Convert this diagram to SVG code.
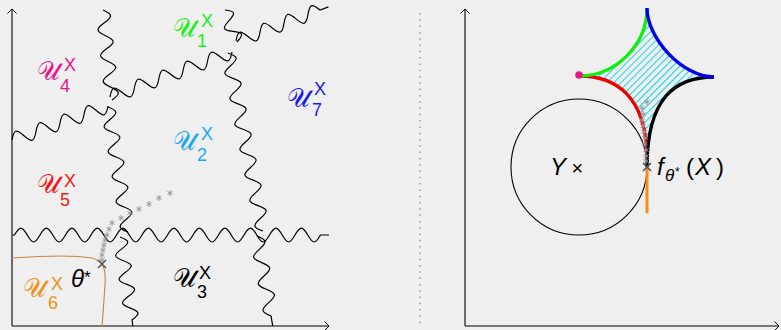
<svg xmlns="http://www.w3.org/2000/svg" width="781" height="330" viewBox="0 0 781 330">
<defs>
<style>
.wave{fill:none;stroke:#000;stroke-width:1.2}
.axis{fill:none;stroke:#000;stroke-width:1.1}
.lbl{font-family:"Liberation Sans",Arial,sans-serif;font-size:18px}
.scr{font-family:"DejaVu Sans","DejaVu Serif","Noto Sans",serif;font-size:26px}
.math{font-family:"Liberation Sans",Arial,sans-serif;font-size:24px;fill:#000}
.ast{fill:none;stroke:#9a9a9a;stroke-width:1}
.cross{fill:none;stroke:#555;stroke-width:1.6}
.arc{fill:none;stroke-width:3.4;stroke-linecap:butt}
</style>
<marker id="arr" viewBox="-6 -6 8 12" refX="0" refY="0" markerWidth="8" markerHeight="12" markerUnits="userSpaceOnUse" orient="auto">
<path d="M-4.5,-4.5 Q-1.5,-1.5 0,0 Q-1.5,1.5 -4.5,4.5" fill="none" stroke="#000" stroke-width="1"/>
</marker>
<path id="ast" d="M0,-3V3M-2.6,-1.5L2.6,1.5M-2.6,1.5L2.6,-1.5"/>
<pattern id="hatch" patternUnits="userSpaceOnUse" width="5" height="5" patternTransform="rotate(-45)">
<line x1="0" y1="2.5" x2="5" y2="2.5" stroke="#10d8ea" stroke-width="1"/>
</pattern>
</defs>
<rect width="781" height="330" fill="#efefef"/>

<!-- separator -->
<line x1="420" y1="13" x2="420" y2="326" stroke="#888" stroke-width="1.2" stroke-dasharray="1.5 4.8"/>

<!-- axes -->
<g id="axes">
<path class="axis" d="M12,326V9" marker-end="url(#arr)"/>
<path class="axis" d="M12,326H329" marker-end="url(#arr)"/>
<path class="axis" d="M465,326V9" marker-end="url(#arr)"/>
<path class="axis" d="M465,326H779" marker-end="url(#arr)"/>
</g>

<!-- region boundaries -->
<g id="boundaries">
<path class="wave" d="M12,235h2.5c5.36,-9.3 7.4,-9.3 12.75,0s7.4,9.3 12.75,0s7.4,-9.3 12.75,0s7.4,9.3 12.75,0s7.4,-9.3 12.75,0s7.4,9.3 12.75,0s7.4,-9.3 12.75,0s7.4,9.3 12.75,0s7.4,-9.3 12.75,0s7.4,9.3 12.75,0s7.4,-9.3 12.75,0s7.4,9.3 12.75,0s7.4,-9.3 12.75,0s7.4,9.3 12.75,0s7.4,-9.3 12.75,0s7.4,9.3 12.75,0s7.4,-9.3 12.75,0s7.4,9.3 12.75,0s7.4,-9.3 12.75,0s7.4,9.3 12.75,0s7.4,-9.3 12.75,0s7.4,9.3 12.75,0s7.4,-9.3 12.75,0s7.4,9.3 12.75,0H329"/>
<path class="wave" transform="translate(103,10) rotate(84.29)" d="M0,0c5.43,-9.3 7.49,-9.3 12.92,0s7.49,9.3 12.92,0s7.49,-9.3 12.92,0s7.49,9.3 12.92,0s7.49,-9.3 12.92,0s7.49,9.3 12.92,0s7.49,-9.3 12.92,0"/>
<path class="wave" transform="translate(108,107) rotate(80.91)" d="M0,0c5.32,-9.3 7.34,-9.3 12.66,0s7.34,9.3 12.66,0s7.34,-9.3 12.66,0s7.34,9.3 12.66,0s7.34,-9.3 12.66,0s7.34,9.3 12.66,0s7.34,-9.3 12.66,0s7.34,9.3 12.66,0s7.34,-9.3 12.66,0s7.34,9.3 12.66,0"/>
<path class="wave" transform="translate(120,237) rotate(81.77)" d="M0,0c5.03,-9.3 6.95,-9.3 11.98,0s6.95,9.3 11.98,0s6.95,-9.3 11.98,0s6.95,9.3 11.98,0s6.95,-9.3 11.98,0s6.95,9.3 11.98,0s6.95,-9.3 11.98,0h6"/>
<path class="wave" transform="translate(225,10) rotate(69.44)" d="M0,0c4.79,-9.3 6.61,-9.3 11.4,0s6.61,9.3 11.4,0s6.61,-9.3 11.4,0"/>
<path class="wave" transform="translate(228,53) rotate(78.88)" d="M0,0c5.44,-9.3 7.52,-9.3 12.96,0s7.52,9.3 12.96,0s7.52,-9.3 12.96,0s7.52,9.3 12.96,0s7.52,-9.3 12.96,0s7.52,9.3 12.96,0s7.52,-9.3 12.96,0s7.52,9.3 12.96,0s7.52,-9.3 12.96,0s7.52,9.3 12.96,0s7.52,-9.3 12.96,0s7.52,9.3 12.96,0s7.52,-9.3 12.96,0s7.52,9.3 12.96,0"/>
<path class="wave" transform="translate(257,236) rotate(80.07)" d="M0,0c5.68,-9.3 7.85,-9.3 13.53,0s7.85,9.3 13.53,0s7.85,-9.3 13.53,0s7.85,9.3 13.53,0s7.85,-9.3 13.53,0s7.85,9.3 13.53,0h10"/>
<path class="wave" transform="translate(12,140) rotate(-19.5)" d="M0,0c5.35,-9.3 7.38,-9.3 12.73,0s7.38,9.3 12.73,0s7.38,-9.3 12.73,0s7.38,9.3 12.73,0s7.38,-9.3 12.73,0s7.38,9.3 12.73,0s7.38,-9.3 12.73,0s7.38,9.3 12.73,0"/>
<path class="wave" transform="translate(110,97) rotate(-20.25)" d="M0,0c5.46,-9.3 7.54,-9.3 13,0s7.54,9.3 13,0s7.54,-9.3 13,0s7.54,9.3 13,0s7.54,-9.3 13,0s7.54,9.3 13,0s7.54,-9.3 13,0s7.54,9.3 13,0s7.54,-9.3 13,0s7.54,9.3 13,0"/>
<path class="wave" transform="translate(236,41) rotate(-20.26)" d="M0,0c5.37,-9.3 7.42,-9.3 12.79,0s7.42,9.3 12.79,0s7.42,-9.3 12.79,0s7.42,9.3 12.79,0s7.42,-9.3 12.79,0s7.42,9.3 12.79,0s7.42,-9.3 12.79,0h9"/>
</g>

<!-- orange region U6 boundary -->
<path id="u6-boundary" d="M12,258C40,256 75,255 92,258C104,261 106,270 105,285C104,300 103,315 102,326" fill="none" stroke="#c8843c" stroke-width="1.1"/>

<!-- labels -->
<g id="U1"><text class="lbl" fill="#1aee1a"><tspan class="scr" x="173" y="37">𝒰</tspan><tspan x="201" y="27">X</tspan><tspan x="197" y="47">1</tspan></text></g>
<g id="U4"><text class="lbl" fill="#e8168c"><tspan class="scr" x="37" y="80">𝒰</tspan><tspan x="64" y="71">X</tspan><tspan x="60" y="92">4</tspan></text></g>
<g id="U7"><text class="lbl" fill="#1a1aee"><tspan class="scr" x="287" y="107">𝒰</tspan><tspan x="314" y="95">X</tspan><tspan x="312" y="116">7</tspan></text></g>
<g id="U2"><text class="lbl" fill="#18a8f0"><tspan class="scr" x="173" y="150">𝒰</tspan><tspan x="201" y="140">X</tspan><tspan x="197" y="161">2</tspan></text></g>
<g id="U5"><text class="lbl" fill="#f01818"><tspan class="scr" x="37" y="193">𝒰</tspan><tspan x="64" y="187">X</tspan><tspan x="60" y="206">5</tspan></text></g>
<g id="U6"><text class="lbl" fill="#f0901a"><tspan class="scr" x="23" y="297">𝒰</tspan><tspan x="51" y="290">X</tspan><tspan x="48" y="309">6</tspan></text></g>
<g id="U3"><text class="lbl" fill="#000"><tspan class="scr" x="173" y="287">𝒰</tspan><tspan x="199" y="279">X</tspan><tspan x="197" y="298">3</tspan></text></g>

<!-- trajectory left -->
<g id="traj-left" class="ast">
<use href="#ast" x="170" y="193"/><use href="#ast" x="159" y="198"/><use href="#ast" x="149" y="204"/>
<use href="#ast" x="139" y="209"/><use href="#ast" x="130" y="213"/><use href="#ast" x="121" y="218"/>
<use href="#ast" x="112" y="223"/><use href="#ast" x="109" y="229"/><use href="#ast" x="107" y="235"/>
<use href="#ast" x="105" y="240"/><use href="#ast" x="104" y="245"/><use href="#ast" x="103" y="250"/>
<use href="#ast" x="102" y="255"/><use href="#ast" x="102" y="260"/>
</g>
<g id="theta">
<path class="cross" d="M98,260L106,268M98,268L106,260"/>
<text class="math" x="71" y="287" font-size="26" font-style="italic">θ<tspan font-style="normal" font-size="17" dy="-4">*</tspan></text>
</g>

<!-- right panel -->
<g id="ball-Y">
<circle cx="579" cy="167" r="68" fill="none" stroke="#000" stroke-width="1.1"/>
<text class="math" x="550" y="175"><tspan font-style="italic">Y</tspan><tspan font-size="20"> ×</tspan></text>
</g>
<line x1="647" y1="150" x2="647" y2="213" stroke="#ff8a10" stroke-width="3"/>
<g id="image-set">
<path d="M579,76C616,76 647,45 647,8C647,39 683,77 714,77C676,77 647,97 647,167C647,95 615,76 579,76Z" fill="url(#hatch)"/>
<path class="arc" stroke="#ee0000" d="M579,76C615,76 647,95 647,160"/>
<path class="arc" stroke="#000" d="M714,77C676,77 647,97 647,167"/>
<path class="arc" stroke="#10ee10" d="M579,76C616,76 647,45 647,8"/>
<path class="arc" stroke="#0000ee" d="M647,8C647,39 683,77 714,77"/>
<circle cx="579" cy="75" r="3.8" fill="#e8168a"/>
</g>
<g id="traj-right" class="ast">
<use href="#ast" x="647" y="102"/><use href="#ast" x="642" y="108"/><use href="#ast" x="643" y="114"/>
<use href="#ast" x="642" y="120"/><use href="#ast" x="643" y="126"/><use href="#ast" x="644" y="132"/>
<use href="#ast" x="645" y="138"/><use href="#ast" x="645" y="144"/><use href="#ast" x="646" y="150"/>
<use href="#ast" x="646" y="156"/><use href="#ast" x="646" y="161"/>
</g>
<g id="f-theta">
<path class="cross" d="M643,163L651,171M643,171L651,163"/>
<text class="math" y="175"><tspan x="657" font-style="italic">f</tspan><tspan x="665" y="181" font-size="17" font-style="italic">θ</tspan><tspan x="675" y="176" font-size="12">*</tspan><tspan x="686" y="175">(</tspan><tspan x="695" font-style="italic">X</tspan><tspan x="716">)</tspan></text>
</g>
</svg>
